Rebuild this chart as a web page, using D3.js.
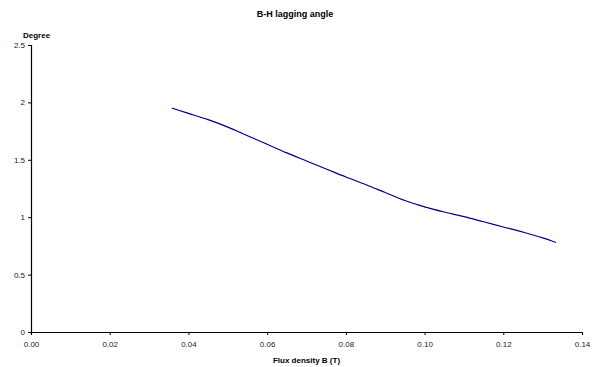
<!DOCTYPE html>
<html><head><meta charset="utf-8">
<script src="https://cdn.jsdelivr.net/npm/d3@7"></script>
<style>body{margin:0;background:#fff}svg{display:block}text{font-family:"Liberation Sans",Arial,sans-serif}</style>
</head><body><div id="c"></div>
<script>
const fluxB = [0.0358,0.040,0.045,0.050,0.055,0.060,0.065,0.070,0.075,0.080,0.085,0.090,0.095,0.100,0.105,0.110,0.115,0.120,0.125,0.130,0.1334];
const lagAngle = [1.95,1.905,1.85,1.785,1.71,1.635,1.56,1.49,1.42,1.35,1.285,1.215,1.145,1.09,1.045,1.005,0.96,0.915,0.87,0.82,0.78];
const xTicks = [0,0.02,0.04,0.06,0.08,0.10,0.12,0.14];
const yTicks = [0,0.5,1,1.5,2,2.5];
const title = "B-H lagging angle", xTitle = "Flux density B (T)", yTitle = "Degree";

const W=596,H=367, m={l:31,r:14,t:45,b:35};
const svg=d3.select("#c").append("svg").attr("width",W).attr("height",H);
const x=d3.scaleLinear().domain([0,0.14]).range([m.l,W-m.r]);
const y=d3.scaleLinear().domain([0,2.5]).range([H-m.b,m.t]);

const gx=svg.append("g").attr("transform",`translate(0,${H-m.b})`)
  .call(d3.axisBottom(x).tickValues(xTicks).tickFormat(d3.format(".2f")).tickSizeOuter(0).tickSize(3).tickPadding(6));
const gy=svg.append("g").attr("transform",`translate(${m.l},0)`)
  .call(d3.axisLeft(y).tickValues(yTicks).tickFormat(d=>String(d)).tickSizeOuter(0).tickSize(3).tickPadding(3));
[gx,gy].forEach(g=>{g.select(".domain").attr("stroke","#000").attr("stroke-width",1.2);
 g.selectAll(".tick line").attr("stroke","#000");
 g.selectAll("text").attr("font-size",8).attr("fill","#222").attr("font-family","Liberation Sans, Arial, sans-serif");});

const pts=fluxB.map((b,i)=>[b,lagAngle[i]]);
svg.append("path").datum(pts).attr("fill","none").attr("stroke","#000080").attr("stroke-width",1.2)
  .attr("d",d3.line().x(d=>x(d[0])).y(d=>y(d[1])).curve(d3.curveMonotoneX));

svg.append("text").attr("x",295).attr("y",17).attr("text-anchor","middle").attr("font-size",9).attr("font-weight","bold").text(title);
svg.append("text").attr("x",(m.l+W-m.r)/2).attr("y",363).attr("text-anchor","middle").attr("font-size",8).attr("font-weight","bold").text(xTitle);
svg.append("text").attr("x",23).attr("y",38).attr("font-size",8).attr("font-weight","bold").text(yTitle);
</script></body></html>
